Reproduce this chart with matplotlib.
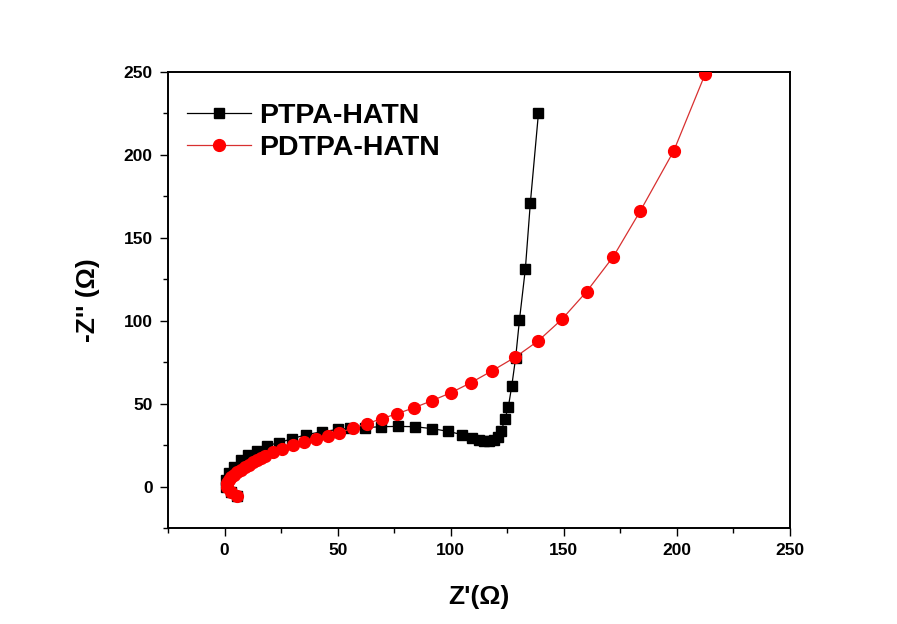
import matplotlib
matplotlib.use('Agg')
import matplotlib.pyplot as plt
from matplotlib.ticker import MultipleLocator

plt.rcParams['font.family'] = ['Liberation Sans', 'DejaVu Sans']
plt.rcParams['font.weight'] = 'bold'

# PTPA-HATN (black squares)
ptpa_x = [5.6, 2.9, 0.7, 0.7, 2.0, 4.2, 7.3, 10.4, 14.4, 18.8, 24.2, 29.9, 36.1,
          43.2, 50.3, 55.6, 62.2, 69.3, 76.8, 84.3, 91.9, 98.9, 105.0, 109.6,
          112.7, 114.9, 117.1, 119.3, 121.1, 122.4, 123.9, 125.5, 127.0, 128.7,
          130.4, 133.0, 135.2, 138.8]
ptpa_y = [-5.4, -3.0, 0.0, 4.2, 8.4, 12.0, 16.3, 19.3, 21.7, 24.7, 26.5, 28.9, 31.3,
          33.1, 34.5, 35.2, 35.6, 36.1, 36.3, 36.1, 34.9, 33.3, 31.3, 29.5,
          28.3, 27.7, 27.3, 28.3, 30.1, 33.7, 40.5, 48.2, 60.8, 77.7,
          100.6, 131.3, 171.0, 225.3]

# PDTPA-HATN (red circles)
pdtpa_x = [5.6, 2.9, 1.1, 1.3, 2.0, 3.0, 4.2, 5.6, 7.3, 9.0, 10.9, 12.6, 14.4,
           16.2, 18.0, 21.5, 25.5, 30.4, 35.2, 40.5, 45.8, 50.7, 56.6, 63.1,
           69.6, 76.4, 83.9, 91.7, 100.1, 109.0, 118.4, 128.6, 138.8, 149.1,
           160.1, 171.9, 183.9, 198.6, 212.5]
pdtpa_y = [-5.4, -3.0, 0.0, 2.0, 4.2, 5.8, 7.2, 8.7, 10.2, 11.8, 13.3, 14.8, 16.3,
           17.5, 18.7, 21.1, 22.9, 25.3, 27.1, 28.9, 30.7, 32.5, 35.2, 38.0,
           41.0, 44.0, 47.6, 51.8, 56.6, 62.7, 69.9, 78.1, 88.0, 100.8,
           117.6, 138.7, 166.4, 202.4, 248.8]

fig = plt.figure(figsize=(8.97, 6.24), dpi=100)
ax = fig.add_axes([0.1873, 0.1538, 0.6934, 0.7308])

ax.plot(ptpa_x, ptpa_y, color='black', lw=0.9, marker='s', ms=7.5,
        mfc='black', mec='black', label='PTPA-HATN', zorder=3)
ax.plot(pdtpa_x, pdtpa_y, color='#d83030', lw=0.9, marker='o', ms=8.5,
        mfc='red', mec='red', label='PDTPA-HATN', zorder=4)

ax.set_xlim(-25, 250)
ax.set_ylim(-25, 250)
ax.xaxis.set_major_locator(MultipleLocator(50))
ax.xaxis.set_minor_locator(MultipleLocator(25))
ax.yaxis.set_major_locator(MultipleLocator(50))
ax.yaxis.set_minor_locator(MultipleLocator(25))

ax.tick_params(which='both', direction='out', top=False, right=False, width=1.0)
ax.tick_params(which='major', length=6, labelsize=12.5, pad=5)
ax.tick_params(which='minor', length=3.5)
for lab in ax.get_xticklabels() + ax.get_yticklabels():
    lab.set_fontweight('bold')
for s in ax.spines.values():
    s.set_linewidth(1.4)

ax.set_xlabel("Z'(Ω)", fontsize=19, fontweight='bold', labelpad=19)
ax.set_ylabel("-Z'' (Ω)", fontsize=19, fontweight='bold', labelpad=17)

leg = ax.legend(loc='upper left', bbox_to_anchor=(0.03, 0.932), frameon=False,
                prop={'size': 20.5, 'weight': 'bold'}, handlelength=2.25,
                handletextpad=0.3, labelspacing=0.2, borderaxespad=0.0,
                borderpad=0.0)

fig.savefig('out.png', dpi=100, facecolor='white')
